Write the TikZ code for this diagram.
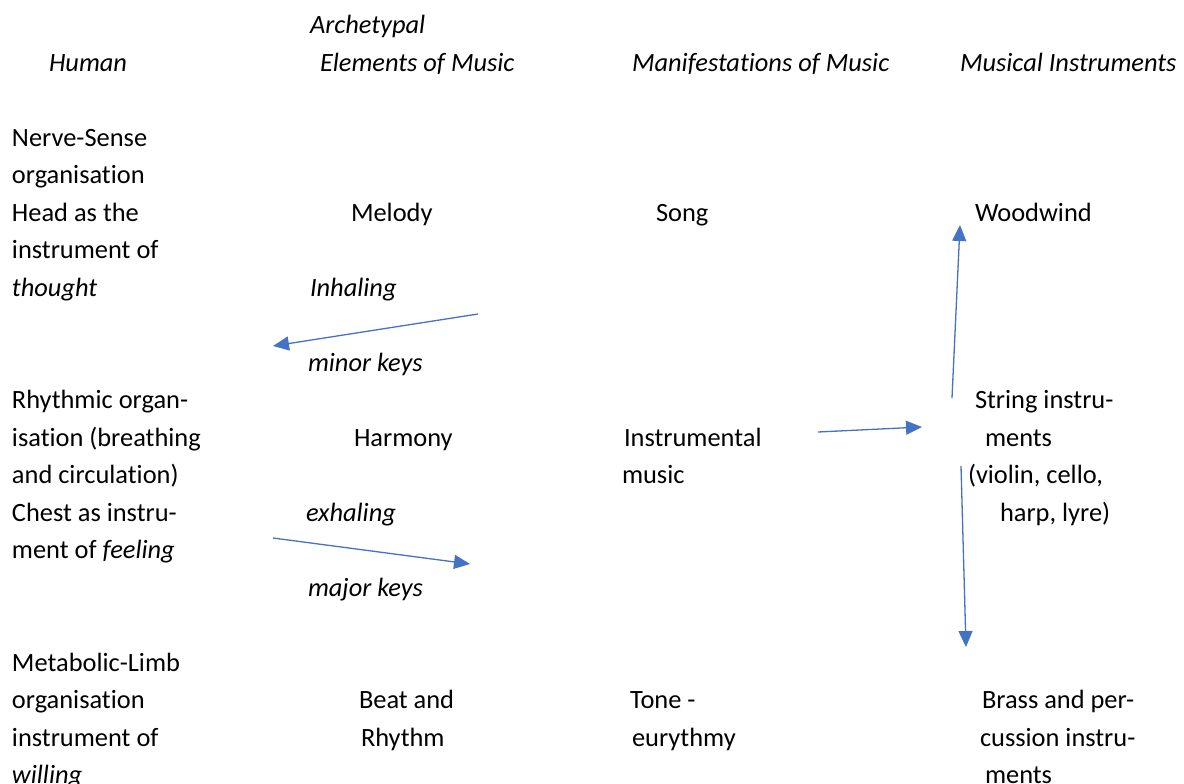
\documentclass[tikz,border=0pt]{standalone}
\usepackage{fontspec}
\setmainfont{Carlito}[Ligatures=NoCommon]
\usetikzlibrary{arrows.meta}
\definecolor{arrowblue}{HTML}{4472C4}
\tikzset{
  txt/.style={anchor=base west, inner sep=0pt, outer sep=0pt, font=\fontsize{26.4}{30}\selectfont},
  itxt/.style={txt, font=\fontsize{26.4}{30}\selectfont\itshape},
  conn/.style={draw=arrowblue, line width=1.3pt, arrows={-{Triangle[length=16pt,width=14pt,fill=arrowblue]}}}
}
\begin{document}
\begin{tikzpicture}[x=1pt,y=-1pt]
\useasboundingbox (0,0) rectangle (1184,784);
% headers
\node[itxt] (h2a) at (310,33.5) {Archetypal};
\node[itxt] (h1) at (49,71) {Human};
\node[itxt] (h2b) at (320,71) {Elements of Music};
\node[itxt] (h3) at (632,71) {Manifestations of Music};
\node[itxt] (h4) at (960,71) {Musical Instruments};
% column 1
\node[txt] (c1a) at (12,146) {Nerve-Sense};
\node[txt] (c1b) at (12,183.5) {organisation};
\node[txt] (c1c) at (12,221) {Head as the};
\node[txt] (c1d) at (12,258.5) {instrument of};
\node[itxt] (c1e) at (12,296) {thought};
\node[txt] (c1f) at (12,408.5) {Rhythmic organ-};
\node[txt] (c1g) at (12,446) {isation (breathing};
\node[txt] (c1h) at (12,483.5) {and circulation)};
\node[txt] (c1i) at (12,521) {Chest as instru-};
\node[txt] (c1j) at (12,558.5) {ment of \textit{feeling}};
\node[txt] (c1k) at (12,671) {Metabolic-Limb};
\node[txt] (c1l) at (12,708.5) {organisation};
\node[txt] (c1m) at (12,746) {instrument of};
\node[itxt] (c1n) at (12,783.5) {willing};
% column 2
\node[txt] (melody) at (351,221) {Melody};
\node[itxt] (inhal) at (310,296) {Inhaling};
\node[itxt] (minor) at (308,371) {minor keys};
\node[txt] (harmony) at (354,446) {Harmony};
\node[itxt] (exhal) at (306,521) {exhaling};
\node[itxt] (major) at (308,596) {major keys};
\node[txt] (beat1) at (359,708.5) {Beat and};
\node[txt] (beat2) at (361,746) {Rhythm};
% column 3
\node[txt] (song) at (656,221) {Song};
\node[txt] (instr1) at (624,446) {Instrumental};
\node[txt] (instr2) at (622,483.5) {music};
\node[txt] (tone1) at (630,708.5) {Tone -};
\node[txt] (tone2) at (632,746) {eurythmy};
% column 4
\node[txt] (wood) at (975,221) {Woodwind};
\node[txt] (str1) at (975,408.5) {String instru-};
\node[txt] (str2) at (985,446) {ments};
\node[txt] (str3) at (968,483.5) {(violin, cello,};
\node[txt] (str4) at (1000,521) {harp, lyre)};
\node[txt] (br1) at (982,708.5) {Brass and per-};
\node[txt] (br2) at (980,746) {cussion instru-};
\node[txt] (br3) at (985,783.5) {ments};
% arrow end points
\coordinate (a1s) at (478,314);
\coordinate (a1e) at (273,346);
\coordinate (a2s) at (273,538);
\coordinate (a2e) at (470,564);
\coordinate (a3s) at (818,432);
\coordinate (a3e) at (922,427);
\coordinate (a4s) at (952,398);
\coordinate (a4e) at (960,225);
\coordinate (a5s) at (961,466);
\coordinate (a5e) at (966,647);
\draw[conn] (a1s) -- (a1e);
\draw[conn] (a2s) -- (a2e);
\draw[conn] (a3s) -- (a3e);
\draw[conn] (a4s) -- (a4e);
\draw[conn] (a5s) -- (a5e);
\end{tikzpicture}
\end{document}
